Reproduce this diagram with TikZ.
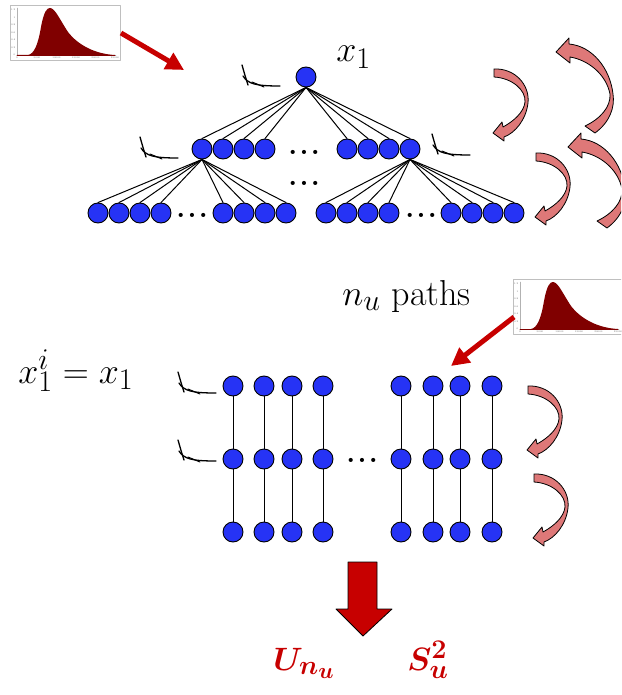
\documentclass[tikz,border=0pt]{standalone}
\usepackage{bm}
\usetikzlibrary{arrows.meta}
\definecolor{uuuuff}{rgb}{0.15,0.2,0.96}
\definecolor{ccqqqq}{rgb}{0.78,0.,0.}
\definecolor{ttqqqq}{rgb}{0.5,0.,0.}
\definecolor{ddtttt}{rgb}{0.87,0.47,0.47}
\tikzset{
  histo/.pic={
    \draw [line width=0.4pt,color=black!25] (0,0) rectangle (110,-55);
    \draw [line width=0.3pt,color=black!30] (7,-3)-- (7,-50)-- (106,-50);
    \fill [ttqqqq] (7,-50)-- (18,-50) .. controls (24,-49) and (28,-40) .. (31,-22) .. controls (34,-6) and (37,-3) .. (40,-3) .. controls (45,-3) and (50,-15) .. (58,-27) .. controls (68,-40) and (85,-49) .. (105,-50)-- cycle;
    \draw [line width=0.6pt,color=ttqqqq] (7,-50)-- (105,-50);
    \node [tick,anchor=east] (y0) at (5.5,-50) {0};
    \node [tick,anchor=east] (y1) at (5.5,-42.5) {0.2};
    \node [tick,anchor=east] (y2) at (5.5,-35) {0.4};
    \node [tick,anchor=east] (y3) at (5.5,-27.5) {0.6};
    \node [tick,anchor=east] (y4) at (5.5,-20) {0.8};
    \node [tick,anchor=east] (y5) at (5.5,-12.5) {1};
    \node [tick,anchor=east] (y6) at (5.5,-5) {1.2};
    \node [tick,anchor=north] (x0) at (7,-51.5) {0};
    \node [tick,anchor=north] (x1) at (27,-51.5) {5000};
    \node [tick,anchor=north] (x2) at (46.5,-51.5) {10000};
    \node [tick,anchor=north] (x3) at (66,-51.5) {15000};
    \node [tick,anchor=north] (x4) at (85.5,-51.5) {20000};
    \node [tick,anchor=north] (x5) at (105,-51.5) {25000};
  },
  bendarrow/.pic={
    \draw [line width=0.8pt,fill=ddtttt] (0,0) .. controls (21,1) and (36,-16) .. (34,-34) .. controls (32,-51) and (21,-64) .. (10,-68)-- (10,-72)-- (-1,-64)-- (8,-53)-- (9,-58) .. controls (20,-52) and (30,-43) .. (31,-33) .. controls (32,-21) and (18,-9) .. (0,-8)-- cycle;
  },
  bigbend/.pic={
    \draw [line width=0.8pt,fill=ddtttt] (39,-81) .. controls (54,-70) and (59,-55) .. (57,-42) .. controls (54,-16) and (36,6) .. (13,8)-- (13,14)-- (0,0)-- (14,-11)-- (14,-5) .. controls (32,-8) and (50,-22) .. (54,-42) .. controls (55,-55) and (44,-67) .. (29,-74)-- cycle;
  },
  decaycurve/.pic={
    \draw [line width=1.3pt,color=black] (0,0) .. controls (2,-7) and (4,-14) .. (6,-20);
    \draw [line width=1.3pt,color=black] (1,-11) .. controls (6,-19) and (14,-21) .. (38,-21);
    \draw [line width=1pt,color=black] (10,-17)-- (22,-22);
  }
}
\begin{document}
\begin{tikzpicture}[line cap=round,line join=round,x=1pt,y=1pt,
  vtx/.style={circle,draw=black,line width=0.9pt,fill=uuuuff,inner sep=0pt,minimum size=20pt},
  branch/.style={line width=1pt,color=black},
  ellip/.style={font=\bfseries\fontsize{24.88}{28}\selectfont,scale=1.15,inner sep=0pt,anchor=base},
  lab/.style={font=\fontsize{24.88}{30}\selectfont,scale=1.45,inner sep=0pt,anchor=base west},
  reslab/.style={font=\fontsize{24.88}{30}\selectfont,scale=1.3,text=ccqqqq,inner sep=0pt,anchor=base west},
  tick/.style={font=\fontsize{2.4}{3}\selectfont,text=black!60,inner sep=0pt},
  redarr/.style={line width=5pt,line cap=butt,color=ccqqqq,-{Triangle[length=18pt,width=18pt]}}]
        \useasboundingbox (0,-695) rectangle (621,0);
        \clip(0,-695) rectangle (621,0);
        % histograms and red arrows
        \pic (ha) at (10,-5) {histo};
        \pic (hb) at (513,-279) {histo};
        \coordinate (haout) at (121,-33);
        \coordinate (haend) at (184,-70);
        \coordinate (hbout) at (514,-317);
        \coordinate (hbend) at (451,-366);
        \draw [redarr] (haout)-- (haend);
        \draw [redarr] (hbout)-- (hbend);
        % tree
        \node [vtx] (r) at (306,-77) {};
        \node [vtx] (a1) at (202,-149) {};
        \node [vtx] (a2) at (223,-149) {};
        \node [vtx] (a3) at (244,-149) {};
        \node [vtx] (a4) at (265,-149) {};
        \node [vtx] (a5) at (347,-149) {};
        \node [vtx] (a6) at (368,-149) {};
        \node [vtx] (a7) at (389,-149) {};
        \node [vtx] (a8) at (410,-149) {};
        \node [vtx] (b1) at (98,-213) {};
        \node [vtx] (b2) at (119,-213) {};
        \node [vtx] (b3) at (140,-213) {};
        \node [vtx] (b4) at (161,-213) {};
        \node [vtx] (b5) at (223,-213) {};
        \node [vtx] (b6) at (244,-213) {};
        \node [vtx] (b7) at (265,-213) {};
        \node [vtx] (b8) at (286,-213) {};
        \node [vtx] (b9) at (326,-213) {};
        \node [vtx] (b10) at (347,-213) {};
        \node [vtx] (b11) at (368,-213) {};
        \node [vtx] (b12) at (389,-213) {};
        \node [vtx] (b13) at (451,-213) {};
        \node [vtx] (b14) at (472,-213) {};
        \node [vtx] (b15) at (493,-213) {};
        \node [vtx] (b16) at (514,-213) {};
        \draw [branch] (r.south)-- (a1.north);
        \draw [branch] (r.south)-- (a2.north);
        \draw [branch] (r.south)-- (a3.north);
        \draw [branch] (r.south)-- (a4.north);
        \draw [branch] (r.south)-- (a5.north);
        \draw [branch] (r.south)-- (a6.north);
        \draw [branch] (r.south)-- (a7.north);
        \draw [branch] (r.south)-- (a8.north);
        \draw [branch] (a1.south)-- (b1.north);
        \draw [branch] (a1.south)-- (b2.north);
        \draw [branch] (a1.south)-- (b3.north);
        \draw [branch] (a1.south)-- (b4.north);
        \draw [branch] (a1.south)-- (b5.north);
        \draw [branch] (a1.south)-- (b6.north);
        \draw [branch] (a1.south)-- (b7.north);
        \draw [branch] (a1.south)-- (b8.north);
        \draw [branch] (a8.south)-- (b9.north);
        \draw [branch] (a8.south)-- (b10.north);
        \draw [branch] (a8.south)-- (b11.north);
        \draw [branch] (a8.south)-- (b12.north);
        \draw [branch] (a8.south)-- (b13.north);
        \draw [branch] (a8.south)-- (b14.north);
        \draw [branch] (a8.south)-- (b15.north);
        \draw [branch] (a8.south)-- (b16.north);
        \node [ellip] (d1) at (304,-154) {.\kern2pt.\kern2pt.};
        \node [ellip] (d2) at (304,-185) {.\kern2pt.\kern2pt.};
        \node [ellip] (d3) at (192,-217) {.\kern2pt.\kern2pt.};
        \node [ellip] (d4) at (421,-217) {.\kern2pt.\kern2pt.};
        \node [lab] (xtop) at (336,-62) {$x_1$};
        \pic at (242,-65) {decaycurve};
        \pic at (140,-137) {decaycurve};
        \pic at (432,-134) {decaycurve};
        % paths
        \node [vtx] (g11) at (233,-386) {};
        \node [vtx] (g12) at (233,-459) {};
        \node [vtx] (g13) at (233,-532) {};
        \node [vtx] (g21) at (264,-386) {};
        \node [vtx] (g22) at (264,-459) {};
        \node [vtx] (g23) at (264,-532) {};
        \node [vtx] (g31) at (292,-386) {};
        \node [vtx] (g32) at (292,-459) {};
        \node [vtx] (g33) at (292,-532) {};
        \node [vtx] (g41) at (323,-386) {};
        \node [vtx] (g42) at (323,-459) {};
        \node [vtx] (g43) at (323,-532) {};
        \node [vtx] (g51) at (401,-386) {};
        \node [vtx] (g52) at (401,-459) {};
        \node [vtx] (g53) at (401,-532) {};
        \node [vtx] (g61) at (433,-386) {};
        \node [vtx] (g62) at (433,-459) {};
        \node [vtx] (g63) at (433,-532) {};
        \node [vtx] (g71) at (460,-386) {};
        \node [vtx] (g72) at (460,-459) {};
        \node [vtx] (g73) at (460,-532) {};
        \node [vtx] (g81) at (492,-386) {};
        \node [vtx] (g82) at (492,-459) {};
        \node [vtx] (g83) at (492,-532) {};
        \draw [branch] (g11.south)-- (g12.north);
        \draw [branch] (g12.south)-- (g13.north);
        \draw [branch] (g21.south)-- (g22.north);
        \draw [branch] (g22.south)-- (g23.north);
        \draw [branch] (g31.south)-- (g32.north);
        \draw [branch] (g32.south)-- (g33.north);
        \draw [branch] (g41.south)-- (g42.north);
        \draw [branch] (g42.south)-- (g43.north);
        \draw [branch] (g51.south)-- (g52.north);
        \draw [branch] (g52.south)-- (g53.north);
        \draw [branch] (g61.south)-- (g62.north);
        \draw [branch] (g62.south)-- (g63.north);
        \draw [branch] (g71.south)-- (g72.north);
        \draw [branch] (g72.south)-- (g73.north);
        \draw [branch] (g81.south)-- (g82.north);
        \draw [branch] (g82.south)-- (g83.north);
        \node [ellip] (d5) at (362,-462) {.\kern2pt.\kern2pt.};
        \pic at (178,-372) {decaycurve};
        \pic at (178,-440) {decaycurve};
        \node [lab] (xeq) at (18,-383) {$x_1^i = x_1$};
        \node [lab] (npaths) at (342,-305) {$n_u$ paths};
        % curved arrows
        \pic at (494,-69) {bendarrow};
        \pic at (536,-153) {bendarrow};
        \pic at (528,-386) {bendarrow};
        \pic at (534,-474) {bendarrow};
        \pic at (556,-52) {bigbend};
        \pic at (568,-147) {bigbend};
        % result
        \draw [line width=0.8pt,fill=ccqqqq] (348,-562)-- (377,-562)-- (377,-609)-- (392,-609)-- (363,-636)-- (336,-609)-- (348,-609)-- cycle;
        \node [reslab] (unu) at (273,-670) {$\bm{U}_{\bm{n_u}}$};
        \node [reslab] (su) at (407,-670) {$\bm{S}_{\bm{u}}^{\bm{2}}$};
    \end{tikzpicture}
\end{document}
